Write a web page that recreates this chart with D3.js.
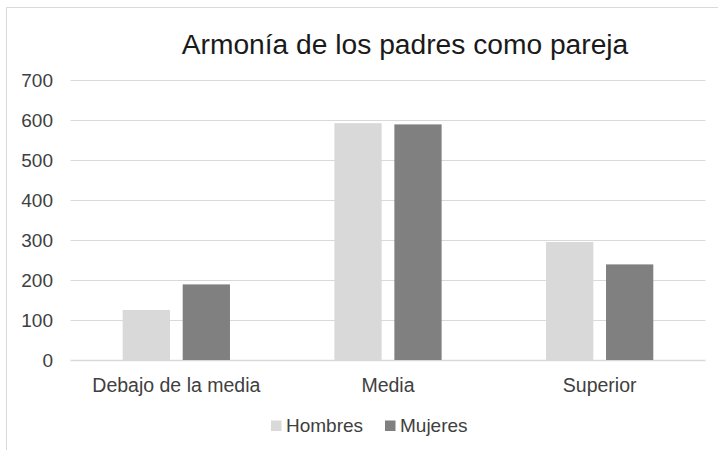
<!DOCTYPE html>
<html><head><meta charset="utf-8">
<script src="https://cdn.jsdelivr.net/npm/d3@7"></script>
<style>body{margin:0;background:#fff}svg{display:block}text{font-family:"Liberation Sans",Arial,sans-serif;fill:#404040}</style>
</head><body><svg id="c" width="718" height="450"></svg>
<script>
const title = "Armonía de los padres como pareja";
const categories = ["Debajo de la media", "Media", "Superior"];
const seriesNames = ["Hombres", "Mujeres"];
const hombres = [125, 592, 295];
const mujeres = [189, 589, 239];
const yTicks = [0, 100, 200, 300, 400, 500, 600, 700];
const colors = ["#d9d9d9", "#808080"];

const svg = d3.select("#c");
const W = 718, H = 450;
const m = {left: 70.5, right: 705.5, top: 80, bottom: 360};

// outer border (left and top visible)
svg.append("path").attr("d", `M6.5,${H} V7.5 H${W}`).attr("fill","none").attr("stroke","#d9d9d9").attr("stroke-width",1);

const x0 = d3.scaleBand().domain(categories).range([m.left, m.right]).paddingInner(0).paddingOuter(0);
const x1 = d3.scaleBand().domain(seriesNames).range([0, x0.bandwidth()]).paddingInner(0.212).paddingOuter(0.87);
const y = d3.scaleLinear().domain([0, 700]).range([m.bottom, m.top]);

// gridlines
svg.append("g").selectAll("line").data(yTicks).join("line")
  .attr("x1", m.left).attr("x2", m.right)
  .attr("y1", d => Math.round(y(d)) + 0.5).attr("y2", d => Math.round(y(d)) + 0.5)
  .attr("stroke", "#d9d9d9").attr("stroke-width", d => d === 0 ? 1.5 : 1);

// y labels
svg.append("g").selectAll("text").data(yTicks).join("text")
  .attr("x", 53).attr("y", d => y(d)).attr("dy", "0.35em")
  .attr("text-anchor", "end").style("font-size", "19px").text(d => d);

const data = categories.map((c, i) => ({c, vals: [hombres[i], mujeres[i]]}));
const g = svg.append("g").selectAll("g").data(data).join("g")
  .attr("transform", d => `translate(${x0(d.c)},0)`);
g.selectAll("rect").data(d => d.vals.map((v, j) => ({v, s: seriesNames[j], j})))
  .join("rect")
  .attr("x", d => x1(d.s)).attr("width", x1.bandwidth())
  .attr("y", d => y(d.v)).attr("height", d => y(0) - y(d.v))
  .attr("fill", d => colors[d.j]);

// category labels
svg.append("g").selectAll("text").data(categories).join("text")
  .attr("x", d => x0(d) + x0.bandwidth() / 2).attr("y", 391.5)
  .attr("text-anchor", "middle").style("font-size", "19.5px").text(d => d);

// title
svg.append("text").attr("x", 405).attr("y", 54).attr("text-anchor", "middle")
  .style("font-size", "28.2px").style("fill", "#1a1a1a").text(title);

// legend
const legX = [271, 385];
const leg = svg.append("g").selectAll("g").data(seriesNames).join("g")
  .attr("transform", (d, i) => `translate(${legX[i]},0)`);
leg.append("rect").attr("x", 0).attr("y", 420.5).attr("width", 10.5).attr("height", 10.5)
  .attr("fill", (d, i) => colors[i]);
leg.append("text").attr("x", 15).attr("y", 431.5).style("font-size", "19px").text(d => d);
</script></body></html>
